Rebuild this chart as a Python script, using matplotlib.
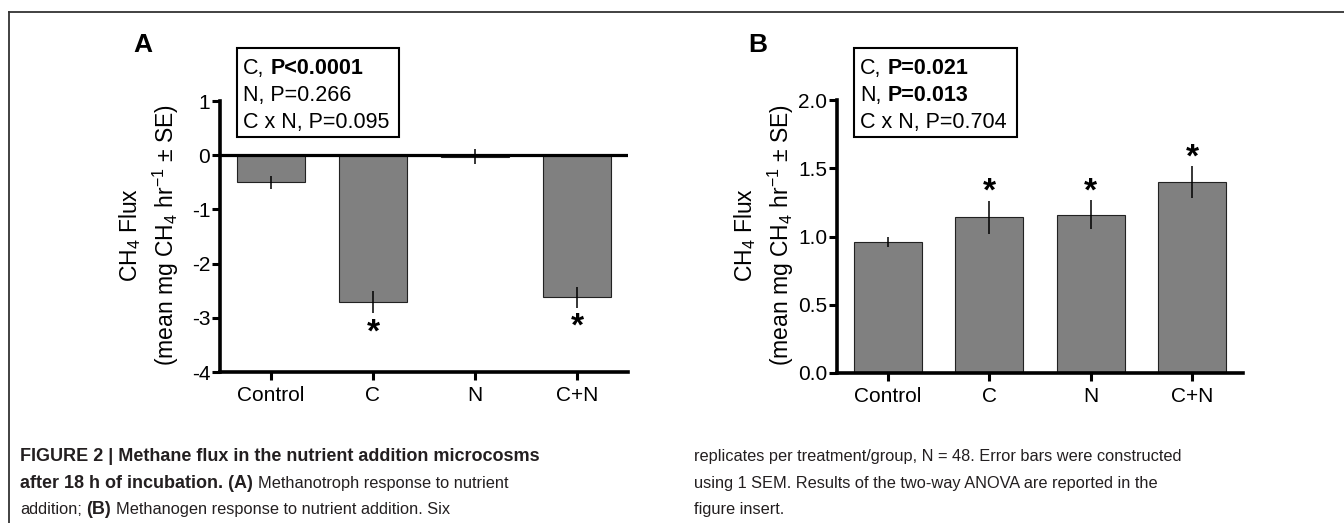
import numpy as np
import matplotlib
matplotlib.use('Agg')
import matplotlib.pyplot as plt
from matplotlib import font_manager
from matplotlib.patches import Rectangle
from matplotlib.lines import Line2D

plt.rcParams['font.family'] = ['Liberation Sans', 'DejaVu Sans']
plt.rcParams['mathtext.default'] = 'regular'
plt.rcParams['axes.unicode_minus'] = False

W, H = 1344, 523

# data
categories = ['Control', 'C', 'N', 'C+N']
flux_a = [-0.50, -2.71, -0.03, -2.62]
se_a = [0.12, 0.21, 0.14, 0.19]
sig_a = [False, True, False, True]
flux_b = [0.96, 1.14, 1.16, 1.40]
se_b = [0.04, 0.12, 0.105, 0.115]
sig_b = [False, True, True, True]
yticks_a = [-4, -3, -2, -1, 0, 1]
yticks_b = [0.0, 0.5, 1.0, 1.5, 2.0]
ytick_labels_b = ['0.0', '0.5', '1.0', '1.5', '2.0']
anova_a = [[('C,', 'normal'), ('P<0.0001', 'bold')],
           [('N, P=0.266', 'normal')],
           [('C x N, P=0.095', 'normal')]]
anova_b = [[('C,', 'normal'), ('P=0.021', 'bold')],
           [('N,', 'normal'), ('P=0.013', 'bold')],
           [('C x N, P=0.704', 'normal')]]

# caption font (condensed if we have it)
try:
    font_manager.findfont('Liberation Sans Narrow', fallback_to_default=False)
    cap_family = ['Liberation Sans Narrow', 'Liberation Sans']
    cap_bold, cap_reg = 15, 14
except ValueError:
    cap_family = ['Liberation Sans']
    cap_bold, cap_reg = 13, 11.8


def fx(x):
    return x / W


def fy(y):
    return 1 - y / H


fig = plt.figure(figsize=(W / 100, H / 100), dpi=100)
renderer = fig.canvas.get_renderer()
bg = fig.add_axes([0, 0, 1, 1])
bg.set_xlim(0, 1)
bg.set_ylim(0, 1)
bg.axis('off')

# outer frame lines
bg.add_line(Line2D([fx(9), 1], [fy(12), fy(12)], color='#333333', lw=1.3))
bg.add_line(Line2D([fx(9), fx(9)], [fy(12), 0], color='#333333', lw=1.3))


def rich_line(x, y, parts, family=None, color='black', gap=0.28):
    # parts: (text, weight, size); pieces share one baseline
    kw = dict(color=color)
    if family:
        kw['family'] = family
    for text, w, size in parts:
        t = bg.text(fx(x), fy(y), text, weight=w, size=size,
                    ha='left', va='baseline', **kw)
        x = t.get_window_extent(renderer).x1 + gap * size * 100 / 72


def draw_panel(left, right, top, bottom, vals, errs, sig, yticks, ylim,
               yticklabels=None, negative=False):
    ax = fig.add_axes([fx(left), fy(bottom), (right - left) / W, (bottom - top) / H])
    ax.patch.set_visible(False)
    x = np.arange(len(categories))
    ax.bar(x, vals, width=0.67, color='#808080', edgecolor='#222222',
           linewidth=0.8, zorder=2)
    ax.errorbar(x, vals, yerr=errs, fmt='none', ecolor='black',
                elinewidth=1.1, capsize=0, zorder=5)
    if negative:
        ax.axhline(0, color='black', lw=2.3, zorder=4)
    ax.set_xlim(-0.5, 3.5)
    ax.set_ylim(ylim)
    ax.set_xticks(x)
    ax.set_xticklabels(categories)
    ax.set_yticks(yticks)
    if yticklabels:
        ax.set_yticklabels(yticklabels)
    for s in ['top', 'right']:
        ax.spines[s].set_visible(False)
    for s in ['left', 'bottom']:
        ax.spines[s].set_linewidth(2.6)
    ax.tick_params(axis='both', width=2.2, length=6, labelsize=15)
    ax.tick_params(axis='y', pad=1)
    ax.tick_params(axis='x', pad=4)
    for i in range(len(vals)):
        if not sig[i]:
            continue
        if negative:
            ax.annotate('*', xy=(i, vals[i] - errs[i]), xytext=(0, -20),
                        textcoords='offset points', ha='center', va='baseline',
                        size=24, weight='bold')
        else:
            ax.annotate('*', xy=(i, vals[i] + errs[i]), xytext=(0, 0),
                        textcoords='offset points', ha='center', va='baseline',
                        size=24, weight='bold')
    return ax


ax_a = draw_panel(220, 628, 101, 372, flux_a, se_a, sig_a, yticks_a, (-4, 1),
                  negative=True)
ax_b = draw_panel(837, 1243, 100, 373, flux_b, se_b, sig_b, yticks_b, (0, 2),
                  yticklabels=ytick_labels_b)

# y axis labels
for x1, x2 in [(130, 166), (745, 781)]:
    bg.text(fx(x1), fy(235), 'CH$_4$ Flux', rotation=90, ha='center',
            va='center', size=16.5)
    bg.text(fx(x2), fy(235), '(mean mg CH$_4$ hr$^{-1}$ \u00b1 SE)', rotation=90,
            ha='center', va='center', size=16.5)

# panel letters
bg.text(fx(133), fy(52), 'A', weight='bold', size=19, ha='left', va='baseline')
bg.text(fx(748), fy(52), 'B', weight='bold', size=19, ha='left', va='baseline')

# ANOVA boxes
for (bx0, bx1), lines in [((237, 399), anova_a), ((854, 1017), anova_b)]:
    bg.add_patch(Rectangle((fx(bx0), fy(137)), (bx1 - bx0) / W, (137 - 48) / H,
                           fill=False, edgecolor='black', lw=1.5))
    for k, parts in enumerate(lines):
        rich_line(bx0 + 6, 74 + 27 * k, [(p[0], p[1], 15.5) for p in parts])

# caption
cap_color = '#231f20'
B, R = 'bold', 'normal'
rich_line(20, 461, [('FIGURE 2 | Methane flux in the nutrient addition microcosms', B, cap_bold)],
          cap_family, cap_color)
rich_line(20, 488, [('after 18 h of incubation. (A)', B, cap_bold),
                    ('Methanotroph response to nutrient', R, cap_reg)],
          cap_family, cap_color)
rich_line(20, 514, [('addition;', R, cap_reg), ('(B)', B, cap_bold),
                    ('Methanogen response to nutrient addition. Six', R, cap_reg)],
          cap_family, cap_color)
rich_line(694, 461, [('replicates per treatment/group, N = 48. Error bars were constructed', R, cap_reg)],
          cap_family, cap_color)
rich_line(694, 488, [('using 1 SEM. Results of the two-way ANOVA are reported in the', R, cap_reg)],
          cap_family, cap_color)
rich_line(694, 514, [('figure insert.', R, cap_reg)],
          cap_family, cap_color)

fig.savefig('out.png', dpi=100, facecolor='white')
